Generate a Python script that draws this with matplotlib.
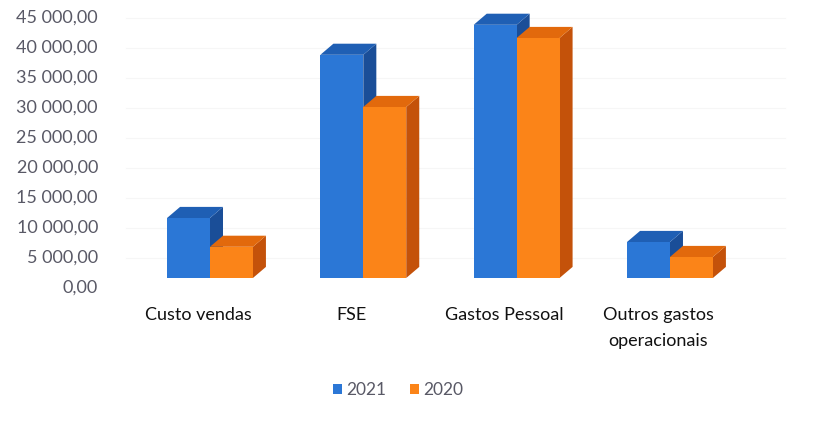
import matplotlib
matplotlib.use("Agg")
import matplotlib.pyplot as plt
import matplotlib.transforms as mtransforms
from matplotlib.patches import Polygon, Patch

categories = ["Custo vendas", "FSE", "Gastos Pessoal", "Outros gastos\noperacionais"]
series_names = ["2021", "2020"]
values_2021 = [10000, 37200, 42200, 6000]
values_2020 = [5200, 28500, 40000, 3500]
yticks = list(range(0, 45001, 5000))

front_colors = ["#2b77d6", "#fb8418"]
top_colors = ["#1f5fb4", "#e2690c"]
side_colors = ["#1a4e98", "#c4520a"]
text_color = "#595966"

plt.rcParams["font.family"] = ["Lato", "DejaVu Sans"]

fig = plt.figure(figsize=(8.2, 4.3), dpi=100)
ax = fig.add_axes([110 / 820, 140 / 430, 680 / 820, 285 / 430])
ax.set_xlim(-0.652, 3.783)
ax.set_ylim(-2000, 45500)
ax.set_xticks([])
ax.set_yticks([])
for s in ax.spines.values():
    s.set_visible(False)

bar_w = 0.28
depth_x = 0.085     # depth of the fake 3d boxes, in axis units
depth_y = 1850

def box(x0, h, idx):
    x1 = x0 + bar_w
    side = Polygon([(x1, 0), (x1 + depth_x, depth_y), (x1 + depth_x, h + depth_y), (x1, h)],
                   closed=True, facecolor=side_colors[idx], edgecolor="none", zorder=3)
    top = Polygon([(x0, h), (x1, h), (x1 + depth_x, h + depth_y), (x0 + depth_x, h + depth_y)],
                  closed=True, facecolor=top_colors[idx], edgecolor="none", zorder=3)
    ax.add_patch(side)
    ax.add_patch(top)

# the wall (gridlines + value labels) sits a little lower than the bar bases
shift_down = mtransforms.ScaledTranslation(0, -0.10, fig.dpi_scale_trans)
for v in yticks[1:]:
    ax.plot([-0.55, 3.75], [v, v], color="#f6f6f6", lw=0.8, zorder=0,
            transform=ax.transData + shift_down)

ylab_tr = ax.get_yaxis_transform() + mtransforms.ScaledTranslation(-0.12, -0.10, fig.dpi_scale_trans)
for v in yticks:
    lab = f"{v:,.2f}".replace(",", " ").replace(".", ",")
    ax.text(0, v, lab, transform=ylab_tr, ha="right", va="center",
            fontsize=13, color=text_color)

for i in range(len(categories)):
    for idx, vals in enumerate([values_2021, values_2020]):
        x0 = i - bar_w + idx * bar_w
        box(x0, vals[i], idx)
        ax.bar(x0, vals[i], width=bar_w, align="edge", color=front_colors[idx],
               edgecolor="none", zorder=4)

xlab_tr = ax.get_xaxis_transform() + mtransforms.ScaledTranslation(-0.12, -0.17, fig.dpi_scale_trans)
for i, name in enumerate(categories):
    ax.text(i, 0, name, transform=xlab_tr, ha="center", va="top",
            fontsize=13, color="#111111", linespacing=1.75)

handles = [Patch(facecolor=c, edgecolor="none") for c in front_colors]
fig.legend(handles, series_names, loc="center", bbox_to_anchor=(398 / 820, 1 - 390 / 430),
           ncol=2, frameon=False, fontsize=12.5, labelcolor=text_color,
           handlelength=0.5, handleheight=0.5, handletextpad=0.25, columnspacing=1.4)

fig.savefig("out.png", dpi=100, facecolor="white")
